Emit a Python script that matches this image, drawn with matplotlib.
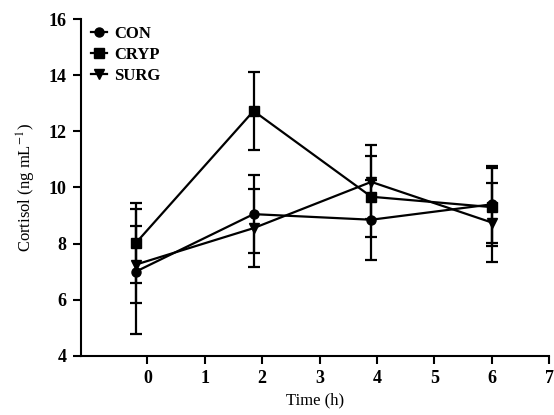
import matplotlib as mpl
mpl.use('Agg')
import matplotlib.pyplot as plt

# sampling times (h) as placed on the plot
time = [-0.2, 1.85, 3.9, 6.0]

con = [7.0, 9.05, 8.85, 9.4]
con_err = [2.24, 1.4, 1.42, 1.37]
cryp = [8.02, 12.73, 9.67, 9.3]
cryp_err = [1.42, 1.38, 1.45, 1.4]
surg = [7.25, 8.55, 10.2, 8.75]
surg_err = [1.37, 1.38, 1.32, 1.4]

labels = ['CON', 'CRYP', 'SURG']
xticks = [0, 1, 2, 3, 4, 5, 6, 7]
yticks = [4, 6, 8, 10, 12, 14, 16]

mpl.rcParams.update({'font.family': 'Liberation Serif', 'mathtext.fontset': 'stix'})

fig = plt.figure(figsize=(5.54, 4.15), dpi=100)
ax = fig.add_axes([0.1457, 0.1429, 0.8458, 0.8106])

series = [(con, con_err, 'o'), (cryp, cryp_err, 's'), (surg, surg_err, 'v')]
handles = []
for vals, errs, mk in series:
    eb = ax.errorbar(time, vals, yerr=errs, color='black', marker=mk, markersize=6.5,
                     linewidth=1.6, elinewidth=1.6, capsize=4, capthick=1.6)
    handles.append(eb[0])  # data line only, no error bars in the legend

ax.set_xlim(-1.16, 7)
ax.set_ylim(4, 16)
ax.set_xticks(xticks)
ax.set_yticks(yticks)
ax.spines['top'].set_visible(False)
ax.spines['right'].set_visible(False)
ax.spines['left'].set_linewidth(1.5)
ax.spines['bottom'].set_linewidth(1.5)
ax.tick_params(direction='out', length=6, width=1.5, labelsize=13, pad=4)
for t in ax.get_xticklabels() + ax.get_yticklabels():
    t.set_fontweight('bold')

ax.set_xlabel('Time (h)', fontsize=12, labelpad=4)
ax.set_ylabel(r'Cortisol (ng mL$^{-1}$)', fontsize=12, labelpad=8)

ax.legend(handles, labels, loc='upper left', frameon=False, handlelength=1.0,
          handletextpad=0.4, labelspacing=0.3, borderaxespad=0.2,
          prop={'weight': 'bold', 'size': 12}, bbox_to_anchor=(0.0, 1.01))

fig.savefig('out.png', dpi=100)
